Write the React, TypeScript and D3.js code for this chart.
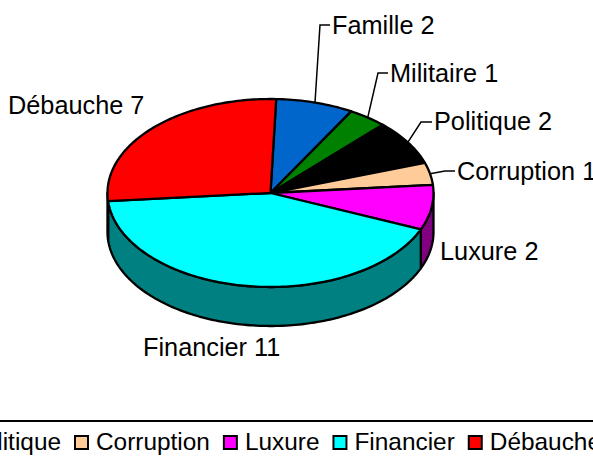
import React, { useMemo } from "react";
import * as d3 from "d3";

const categories = ["Famille", "Militaire", "Politique", "Corruption", "Luxure", "Financier", "Débauche"];
const values = [2, 1, 2, 1, 2, 11, 7];
const topColors = ["#0066CC", "#008000", "#000000", "#FFCC99", "#FF00FF", "#00FFFF", "#FF0000"];
const sideColors = ["#003366", "#004000", "#000000", "#806650", "#800080", "#008080", "#800000"];
// label anchor (x, baseline), leader elbow points
const labelPos: [number, number][] = [[332, 34], [390, 82], [434, 130], [457, 180], [440, 260], [143, 356], [8, 114]];
const leaders: ([number, number][] | null)[] = [
  [[320, 25], [330, 25]],
  [[378, 73], [388, 73]],
  [[421, 122], [432, 122]],
  [[445, 171], [455, 171]],
  null, null, null,
];

const W = 593, H = 458;
const cx = 270.5, cy = 193, rx = 163, ry = 94, depth = 39;
const FONT = "'Liberation Sans', Arial, sans-serif";
const FS = 25.3;
const LEGEND_FS = 24.4;
const start = (2 * Math.PI) / 180;

const px = (a: number) => cx + rx * Math.sin(a);
const py = (a: number) => cy - ry * Math.cos(a);

function arcPts(a0: number, a1: number, dy = 0) {
  const n = Math.max(2, Math.ceil(Math.abs(a1 - a0) / 0.02));
  return d3.range(n + 1).map((i) => {
    const a = a0 + ((a1 - a0) * i) / n;
    return [px(a), py(a) + dy] as [number, number];
  });
}
const line = d3.line();

function measure(t: string) {
  const c = document.createElement("canvas").getContext("2d")!;
  c.font = `${LEGEND_FS}px ${FONT}`;
  return c.measureText(t).width;
}

export default function App() {
  const slices = useMemo(
    () => d3.pie<number>().sort(null).startAngle(start).endAngle(start + 2 * Math.PI)(values),
    []
  );
  const legend = useMemo(() => {
    const idx = categories.indexOf("Corruption");
    const extra = 35;
    const xs: number[] = new Array(categories.length).fill(0);
    xs[idx] = 74;
    for (let i = idx + 1; i < categories.length; i++)
      xs[i] = xs[i - 1] + extra + measure(categories[i - 1]);
    for (let i = idx - 1; i >= 0; i--)
      xs[i] = xs[i + 1] - (extra + measure(categories[i]));
    return xs;
  }, []);

  const walls = slices
    .map((s, i) => {
      const a0 = Math.max(s.startAngle, Math.PI / 2);
      const a1 = Math.min(s.endAngle, (3 * Math.PI) / 2);
      if (a1 <= a0) return null;
      const top = arcPts(a0, a1);
      const bottom = arcPts(a1, a0, depth);
      return <path key={i} d={line([...top, ...bottom])! + "Z"} fill={sideColors[i]} stroke="#000" strokeWidth={2.3} strokeLinejoin="round" />;
    });

  return (
    <svg width={W} height={H} style={{ position: "fixed", left: 0, top: 0, background: "#fff" }} fontFamily={FONT} fontSize={FS}>
      {walls}
      {slices.map((s, i) => (
        <path key={i} d={line([[cx, cy], ...arcPts(s.startAngle, s.endAngle)])! + "Z"} fill={topColors[i]} stroke="#000" strokeWidth={2.3} strokeLinejoin="round" />
      ))}
      {slices.map((s, i) => {
        const l = leaders[i];
        if (!l) return null;
        const m = (s.startAngle + s.endAngle) / 2;
        return <path key={i} d={line([[px(m), py(m)], ...l])!} fill="none" stroke="#000" strokeWidth={1.5} />;
      })}
      {categories.map((c, i) => (
        <text key={c} x={labelPos[i][0]} y={labelPos[i][1]} fill="#000">{`${c} ${values[i]}`}</text>
      ))}
      <line x1={0} x2={W} y1={421} y2={421} stroke="#000" strokeWidth={2} />
      {categories.map((c, i) => (
        <g key={c}>
          <rect x={legend[i] + 1} y={436} width={13} height={13} fill={topColors[i]} stroke="#000" strokeWidth={2} />
          <text x={legend[i] + 22} y={450} fontSize={LEGEND_FS} fill="#000">{c}</text>
        </g>
      ))}
    </svg>
  );
}
